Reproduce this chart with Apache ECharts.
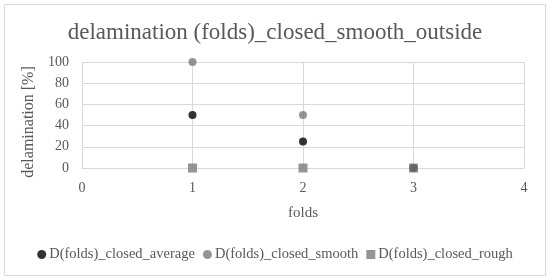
<!DOCTYPE html>
<html><head><meta charset="utf-8">
<script src="https://cdn.jsdelivr.net/npm/echarts@6/dist/echarts.min.js"></script>
<style>html,body{margin:0;padding:0;background:#fff}#c{width:550px;height:280px}</style>
</head><body><div id="c"></div>
<script>
const xTicks = [0, 1, 2, 3, 4];
const yTicks = [0, 20, 40, 60, 80, 100];
const folds = [1, 2, 3];
const closedAverage = [50, 25, 0];
const closedSmooth = [100, 50, 0];
const closedRough = [0, 0, 0];
const seriesNames = ['D(folds)_closed_average', 'D(folds)_closed_smooth', 'D(folds)_closed_rough'];

const FONT = 'Liberation Serif';
const chart = echarts.init(document.getElementById('c'), null, {renderer: 'canvas'});
const pts = v => folds.map((f, i) => [f, v[i]]);
chart.setOption({
  animation: false,
  backgroundColor: '#fff',
  graphic: [{type: 'rect', shape: {x: 4.5, y: 4.5, width: 541, height: 271}, style: {fill: 'none', stroke: '#d9d9d9', lineWidth: 1}, z: -1}],
  title: {text: 'delamination (folds)_closed_smooth_outside', left: 'center', top: 16,
    textStyle: {fontFamily: FONT, fontWeight: 'normal', fontSize: 23, color: '#595959'}},
  grid: {left: 82, right: 26, top: 62, bottom: 112},
  xAxis: {type: 'value', min: xTicks[0], max: xTicks[xTicks.length - 1], interval: 1,
    name: 'folds', nameLocation: 'middle', nameGap: 38,
    nameTextStyle: {fontFamily: FONT, fontSize: 15, color: '#595959'},
    axisLine: {show: true, lineStyle: {color: '#d9d9d9'}}, axisTick: {show: false},
    axisLabel: {fontFamily: FONT, fontSize: 14, color: '#595959', margin: 13},
    splitLine: {show: true, lineStyle: {color: '#d9d9d9'}}},
  yAxis: {type: 'value', min: yTicks[0], max: yTicks[yTicks.length - 1], interval: 20,
    name: 'delamination [%]', nameLocation: 'middle', nameGap: 44,
    nameTextStyle: {fontFamily: FONT, fontSize: 16, color: '#595959', padding: [0, 14, 0, 0]},
    axisLine: {show: true, lineStyle: {color: '#d9d9d9'}}, axisTick: {show: false},
    axisLabel: {fontFamily: FONT, fontSize: 14, color: '#595959', margin: 13},
    splitLine: {show: true, lineStyle: {color: '#d9d9d9'}}},
  legend: {bottom: 13, left: 'center', itemGap: 8, itemWidth: 9, itemHeight: 9,
    textStyle: {fontFamily: FONT, fontSize: 14.5, color: '#595959', padding: [0, 0, 0, -2]},
    data: [{name: seriesNames[0], icon: 'circle'}, {name: seriesNames[1], icon: 'circle'}, {name: seriesNames[2], icon: 'rect'}]},
  series: [
    {name: seriesNames[1], type: 'scatter', data: pts(closedSmooth), symbol: 'circle', symbolSize: 8, itemStyle: {color: '#7a7a7a'}, z: 2},
    {name: seriesNames[0], type: 'scatter', data: pts(closedAverage), symbol: 'circle', symbolSize: 8, itemStyle: {color: '#000000'}, z: 3},
    {name: seriesNames[2], type: 'scatter', data: pts(closedRough), symbol: 'rect', symbolSize: 9, itemStyle: {color: '#7a7a7a'}, z: 4}
  ]
});
</script></body></html>
